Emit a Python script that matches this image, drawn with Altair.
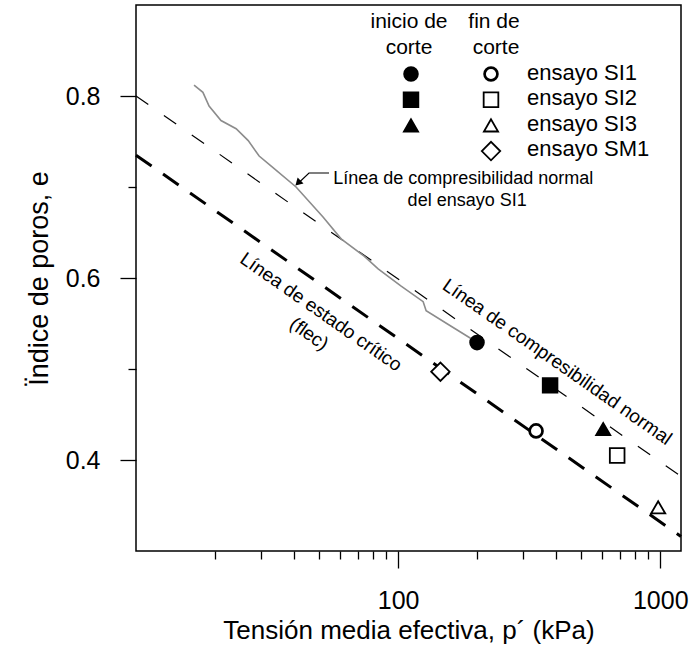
import altair as alt
import pandas as pd

# ---------------- data ----------------
ncl_p = [10, 1200]                 # normal compression line
ncl_e = [0.800, 0.382]
csl_p = [10, 1200]                 # critical state line (flec)
csl_e = [0.735, 0.316]
si1_p = [16.65, 18.0, 19.0, 21.1, 24.1, 26.8, 29.5, 32.8, 40.8, 51.7, 60.6,
         74.2, 83.9, 102.7, 124.6, 127.9, 159.3, 198.5]
si1_e = [0.812, 0.804, 0.789, 0.773, 0.764, 0.751, 0.734, 0.723, 0.700, 0.667,
         0.643, 0.624, 0.610, 0.591, 0.574, 0.564, 0.547, 0.530]
tests = ["SI1", "SI2", "SI3", "SM1"]
start_tests = ["SI1", "SI2", "SI3"]
start_p = [200, 380, 606]
start_e = [0.529, 0.482, 0.434]
end_p = [336, 685, 982, 145]
end_e = [0.432, 0.405, 0.348, 0.497]
legend_labels = ["ensayo SI1", "ensayo SI2", "ensayo SI3", "ensayo SM1"]
x_major = [100, 1000]
x_minor = [20, 30, 40, 50, 60, 70, 80, 90, 200, 300, 400, 500, 600, 700, 800, 900]
y_major = [0.4, 0.6, 0.8]
y_minor = [0.5, 0.7]

FONT = "Liberation Sans"

xs = alt.Scale(type="log", domain=[10, 1200], nice=False)
ys = alt.Scale(domain=[0.3, 0.9], nice=False, zero=False)
fill_s = alt.Scale(domain=["inicio", "fin"], range=["black", "white"])
# marker style per test: shape, size, stroke width
marker = {
    "SI1": ("circle", 165, 2.7),
    "SI2": ("square", 215, 1.8),
    "SI3": ("triangle-up", 200, 1.8),
    "SM1": ("diamond", 340, 1.8),
}

ax_x_major = alt.Axis(values=x_major, format="d", tickSize=17, labelPadding=20,
                      labelFontSize=25, titleFontSize=26, titlePadding=4,
                      orient="bottom", labelFlush=False, grid=False, domain=False)
ax_y_major = alt.Axis(values=y_major, format=".1f", tickSize=16, labelPadding=20,
                      labelFontSize=25, titleFontSize=27, titlePadding=12,
                      orient="left", grid=False, domain=False)
ax_x_minor = alt.Axis(values=x_minor, tickSize=8, labels=False, orient="bottom",
                      grid=False, domain=False)
ax_y_minor = alt.Axis(values=y_minor, tickSize=8, labels=False, orient="left",
                      grid=False, domain=False)

ncl_df = pd.DataFrame({"p": ncl_p, "e": ncl_e})
csl_df = pd.DataFrame({"p": csl_p, "e": csl_e})
si1_df = pd.DataFrame({"p": si1_p, "e": si1_e, "o": range(len(si1_p))})
pts_df = pd.concat([
    pd.DataFrame({"test": start_tests, "stage": "inicio", "p": start_p, "e": start_e}),
    pd.DataFrame({"test": tests, "stage": "fin", "p": end_p, "e": end_e}),
])

XD = alt.X("p:Q", scale=xs, axis=None)
YD = alt.Y("e:Q", scale=ys, axis=None)

ncl = alt.Chart(ncl_df).mark_line(color="black", strokeWidth=1.2, strokeDash=[15, 19]).encode(
    x=alt.X("p:Q", scale=xs, axis=ax_x_major, title="Tensión media efectiva, p´ (kPa)"),
    y=alt.Y("e:Q", scale=ys, axis=ax_y_major, title="Ïndice de poros, e"),
)
csl = alt.Chart(csl_df).mark_line(color="black", strokeWidth=3, strokeDash=[19, 14]).encode(
    x=alt.X("p:Q", scale=xs, axis=ax_x_minor, title=None),
    y=alt.Y("e:Q", scale=ys, axis=ax_y_minor, title=None),
)
si1 = alt.Chart(si1_df).mark_line(color="#8c8c8c", strokeWidth=1.6).encode(
    x=XD, y=YD, order="o:Q",
)

# legend symbol positions (pixels inside the plot)
leg_start = pd.DataFrame({"test": start_tests, "stage": "inicio", "i": [0, 1, 2]})
leg_end = pd.DataFrame({"test": tests, "stage": "fin", "i": [0, 1, 2, 3]})
leg_df = pd.concat([leg_start, leg_end])

point_layers = []
for t in tests:
    shp, sz, sw = marker[t]
    point_layers.append(
        alt.Chart(pts_df).transform_filter(alt.datum.test == t).mark_point(
            shape=shp, size=sz, strokeWidth=sw, filled=False, stroke="black", opacity=1
        ).encode(x=XD, y=YD, fill=alt.Fill("stage:N", scale=fill_s, legend=None))
    )
    point_layers.append(
        alt.Chart(leg_df).transform_filter(alt.datum.test == t).transform_calculate(
            px="datum.stage == 'inicio' ? 275 : 355",
            py="69 + 25.7 * datum.i",
        ).mark_point(
            shape=shp, size=sz, strokeWidth=sw, filled=False, stroke="black", opacity=1
        ).encode(
            x=alt.X("px:Q", scale=None, axis=None),
            y=alt.Y("py:Q", scale=None, axis=None),
            fill=alt.Fill("stage:N", scale=fill_s, legend=None),
        )
    )

# annotation arrow (data coordinates)
arrow_df = pd.DataFrame({"p": [54.5, 45.7, 41.2], "e": [0.7154, 0.7154, 0.703], "o": [0, 1, 2]})
arrow = alt.Chart(arrow_df).mark_line(color="black", strokeWidth=1.2).encode(
    x=XD, y=YD, order="o:Q")
head_df = pd.DataFrame({"p": [41.5], "e": [0.7044]})
head = alt.Chart(head_df).mark_point(shape="triangle-up", filled=True, color="black",
                                     size=70, angle=225, opacity=1).encode(x=XD, y=YD)

ann_df = pd.DataFrame({
    "p": [56.5, 183.4],
    "e": [0.7088, 0.6846],
    "t": ["Línea de compresibilidad normal", "del ensayo SI1"],
})
ann1 = alt.Chart(ann_df.iloc[[0]]).mark_text(align="left", baseline="middle", font=FONT,
                                             fontSize=18).encode(x=XD, y=YD, text="t:N")
ann2 = alt.Chart(ann_df.iloc[[1]]).mark_text(align="center", baseline="middle", font=FONT,
                                             fontSize=18).encode(x=XD, y=YD, text="t:N")

rot_df = pd.DataFrame({
    "p": [404.5, 50.8, 45.7],
    "e": [0.5077, 0.5626, 0.5385],
    "t": ["Línea de compresibilidad normal", "Línea de estado crítico", "(flec)"],
})
rot = alt.Chart(rot_df).mark_text(align="center", baseline="middle", angle=35, font=FONT,
                                  fontSize=19).encode(x=XD, y=YD, text="t:N")

# ---------------- legend texts ----------------
leg_txt_df = pd.DataFrame({"t": legend_labels, "i": [0, 1, 2, 3]})
leg_txt = alt.Chart(leg_txt_df).transform_calculate(
    px="391", py="68 + 25.4 * datum.i"
).mark_text(align="left", baseline="middle", font=FONT, fontSize=22).encode(
    x=alt.X("px:Q", scale=None, axis=None),
    y=alt.Y("py:Q", scale=None, axis=None),
    text="t:N",
)
hdr_df = pd.DataFrame({
    "t": ["inicio de", "corte", "fin de", "corte"],
    "px": [273, 273, 358, 360],
    "py": [17, 43, 17, 43],
})
hdr = alt.Chart(hdr_df).mark_text(align="center", baseline="middle", font=FONT, fontSize=21).encode(
    x=alt.X("px:Q", scale=None, axis=None),
    y=alt.Y("py:Q", scale=None, axis=None),
    text="t:N",
)

chart = alt.layer(
    ncl, csl, si1, arrow, head, *point_layers, ann1, ann2, rot, leg_txt, hdr
).resolve_axis(x="independent", y="independent").properties(
    width=545, height=546,
    autosize=alt.AutoSizeParams(type="none"),
    padding={"left": 136, "top": 5, "right": 10, "bottom": 101},
).configure_view(
    stroke="black", strokeWidth=1.5
).configure_axis(
    tickColor="black", tickWidth=1.3, labelColor="black", titleColor="black",
    labelFont=FONT, titleFont=FONT, titleFontWeight="normal",
).configure_text(color="black")

chart.save("out.html", embed_options={"renderer": "svg", "actions": False})
